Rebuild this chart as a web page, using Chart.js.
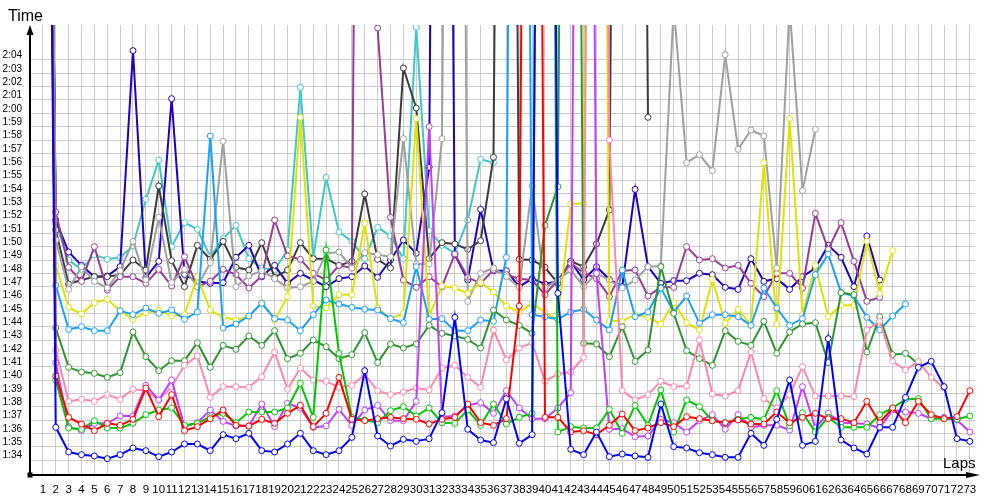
<!DOCTYPE html>
<html>
<head>
<meta charset="utf-8">
<script src="https://cdn.jsdelivr.net/npm/chart.js@4.4.1/dist/chart.umd.min.js"></script>
<style>
	html, body { margin: 0; padding: 0; background: #fff; }
	canvas { display: block; }
</style>
</head>
<body>
<canvas id="chart" width="1000" height="500"></canvas>
<script>
// lap numbers on the x axis
const laps = [
	1, 2, 3, 4, 5, 6, 7, 8, 9, 10, 11, 12, 13, 14, 15, 16, 17, 18, 19, 20,
	21, 22, 23, 24, 25, 26, 27, 28, 29, 30, 31, 32, 33, 34, 35, 36, 37, 38, 39, 40,
	41, 42, 43, 44, 45, 46, 47, 48, 49, 50, 51, 52, 53, 54, 55, 56, 57, 58, 59, 60,
	61, 62, 63, 64, 65, 66, 67, 68, 69, 70, 71, 72, 73,
]

// y tick values in seconds (1:34 .. 2:04)
const timeTicks = [
	94, 95, 96, 97, 98, 99, 100, 101, 102, 103, 104, 105, 106, 107, 108, 109,
	110, 111, 112, 113, 114, 115, 116, 117, 118, 119, 120, 121, 122, 123, 124,
]

// lap times in seconds, one array per car (null = no lap)
const blueTimes = [
	200, 96.45, 94.6, 94.4, 94.3, 94.1, 94.4, 94.9, 94.7, 94.25,
	94.6, 95.2, 95.2, 94.7, 95.9, 95.6, 96.0, 94.7, 94.6, 95.2,
	96.0, 94.7, 94.4, 94.7, 95.7, 100.7, 95.8, 95.05, 95.55, 95.4,
	95.6, 97.55, 104.7, 96.3, 95.5, 95.3, 98.6, 95.25, 95.9, 240,
	106.5, 94.8, 94.4, 96.1, 94.25, 94.45, 94.3, 94.2, 98.2, 95.0,
	94.9, 94.55, 94.4, 94.2, 94.2, 96.0, 95.1, 97.05, 100.0, 95.1,
	95.4, 103.1, 95.5, 94.9, 94.45, 96.45, 96.45, 98.7, 100.95, 101.4,
	99.5, 95.6, 95.4,
]
const redTimes = [
	200, 100.3, 97.2, 96.7, 96.2, 96.75, 96.6, 97.05, 99.4, 97.25,
	98.9, 96.2, 96.5, 97.1, 97.75, 96.6, 96.55, 97.05, 96.75, 97.5,
	98.1, 96.5, 97.5, 100.2, 97.05, 96.95, 97.1, 97.2, 97.1, 97.05,
	96.7, 97.05, 97.2, 98.2, 96.8, 96.6, 97.1, 105.55, 240, 97.2,
	97.2, 96.1, 96.2, 95.9, 96.6, 97.45, 96.2, 96.4, 96.8, 96.5,
	97.25, 97.1, 96.95, 96.8, 97.0, 96.7, 96.7, 97.6, 96.8, 97.2,
	97.5, 97.1, 97.1, 96.8, 98.4, 96.8, 97.9, 96.8, 98.4, 97.4,
	97.1, 97.25, 99.2,
]
const greenTimes = [
	200, 100.0, 96.4, 96.3, 96.95, 96.4, 96.4, 96.75, 97.4, 97.75,
	97.9, 96.6, 96.75, 97.25, 97.5, 96.8, 97.6, 97.6, 97.6, 97.9,
	99.75, 97.2, 109.75, 102.0, 97.2, 97.0, 96.8, 97.7, 98.0, 97.3,
	97.9, 96.8, 96.75, 97.75, 96.6, 98.2, 96.7, 97.2, 97.5, 240,
	96.1, 96.5, 96.4, 96.4, 97.8, 96.0, 98.1, 96.6, 99.25, 96.1,
	98.5, 98.0, 96.95, 96.8, 97.05, 97.2, 97.05, 99.2, 96.55, 97.55,
	96.1, 97.2, 96.45, 96.45, 96.45, 97.4, 97.9, 98.55, 98.6, 97.1,
	97.1, 97.05, 97.3,
]
const violetTimes = [
	200, 101.3, 96.5, 96.2, 96.75, 96.75, 97.3, 97.3, 99.6, 98.5,
	100.0, 96.5, 96.8, 97.75, 96.9, 96.55, 96.55, 98.2, 96.5, 98.25,
	97.9, 96.45, 96.55, 97.8, 96.6, 97.75, 98.1, 96.95, 96.95, 98.4,
	119.0, 97.25, 97.3, 98.1, 98.3, 97.5, 99.2, 97.9, 97.1, 97.1,
	97.9, 99.05, 240, 108.0, 96.3, 96.35, 95.75, 95.8, 97.05, 96.8,
	96.1, 96.95, 97.4, 96.3, 97.4, 96.45, 96.6, 96.6, 96.25, 99.5,
	96.4, 97.5, 96.8, 96.75, 96.7, 96.4, 97.75, 97.6, 97.5, 97.1,
	97.2, 97.0, 96.1,
]
const pinkTimes = [
	200, 102.25, 98.4, 98.55, 98.4, 98.9, 98.55, 99.3, 99.2, 98.5,
	99.5, 101.1, 101.8, 98.7, 99.5, 99.5, 99.45, 100.25, 102.1, 99.3,
	100.9, 100.0, 99.9, 99.45, 99.6, 100.4, 99.2, 98.9, 99.1, 99.4,
	99.25, 100.9, 101.1, 100.2, 99.45, 103.75, 101.5, 102.4, 102.8, 99.9,
	100.45, 100.6, 101.7, 240, 118.0, 99.2, 98.5, 98.9, 99.9, 99.5,
	99.55, 103.0, 98.95, 98.8, 99.2, 102.1, 98.6, 97.9, 98.9, 101.0,
	98.8, 98.8, 98.8, 98.75, 103.75, 104.4, 101.4, 100.75, 101.4, 100.2,
	99.4, null, null,
]
const darkGreenTimes = [
	200, 103.9, 100.95, 100.6, 100.5, 100.2, 100.55, 103.6, 101.75, 100.7,
	101.45, 101.45, 102.8, 100.95, 102.6, 102.3, 103.3, 102.6, 103.7, 101.6,
	102.0, 103.0, 102.5, 101.6, 101.9, 103.55, 101.3, 102.7, 102.4, 102.7,
	104.1, 103.5, 103.3, 103.05, 102.4, 105.25, 104.5, 104.1, 103.5, 111.6,
	114.5, 240, 102.75, 102.7, 101.75, 104.0, 101.4, 102.25, 108.5, 105.0,
	102.2, 101.6, 101.1, 103.7, 102.9, 102.6, 104.4, 102.0, 103.6, 104.2,
	104.3, 101.3, 106.55, 106.4, 102.1, 104.75, 101.9, 102.0, 101.2, null,
	null, null, null,
]
const lightBlueTimes = [
	200, 107.1, 103.8, 104.0, 103.7, 103.7, 105.2, 104.9, 105.4, 105.0,
	105.25, 104.55, 105.1, 118.3, 103.9, 104.2, 104.8, 105.75, 104.6, 104.5,
	103.7, 104.9, 106.0, 105.7, 105.45, 105.3, 105.25, 104.6, 104.3, 108.5,
	104.55, 104.6, 103.7, 103.7, 104.5, 104.4, 109.2, 240, 104.9, 104.75,
	104.55, 105.1, 105.3, 104.5, 103.75, 108.25, 104.75, 105.1, 106.9, 105.1,
	106.3, 104.25, 104.9, 104.9, 104.75, 104.1, 106.9, 105.4, 104.1, 104.6,
	107.9, 109.45, 106.55, 106.3, 104.7, 103.75, 104.8, 105.7, null, null,
	null, null, null,
]
const yellowTimes = [
	200, 108.55, 105.45, 104.95, 105.8, 106.05, 105.2, 104.55, 105.05, 105.25,
	104.8, 104.9, 107.75, 105.25, 104.7, 104.5, 104.75, 105.8, 104.5, 106.25,
	119.7, 105.55, 105.4, 106.4, 106.4, 111.75, 105.4, 104.6, 105.0, 119.6,
	104.8, 107.05, 106.9, 106.5, 107.3, 106.6, 105.55, 105.1, 105.75, 105.1,
	104.5, 113.2, 113.25, 240, 104.45, 104.4, 104.9, 104.7, 104.2, 105.8,
	104.3, 103.75, 107.55, 104.25, 105.3, 104.1, 116.3, 104.2, 119.6, 104.9,
	108.6, 104.75, 105.6, 105.6, 110.4, 106.5, 109.7, null, null, null,
	null, null, null,
]
const grayTimes = [
	200, 110.5, 106.8, 108.5, 107.4, 106.9, 108.2, 110.4, 107.5, 112.2,
	107.3, 108.3, 107.0, 108.8, 117.9, 107.0, 107.8, 108.2, 107.6, 106.9,
	107.0, 107.4, 109.5, 109.6, 108.4, 109.55, 109.4, 109.25, 118.1, 108.7,
	108.7, 118.1, 240, 105.9, 108.0, 108.4, 107.75, 106.95, 114.55, 106.95,
	107.5, 108.25, 107.0, 108.0, 107.5, 106.9, 107.5, 108.5, 108.55, 128.0,
	116.3, 116.9, 115.7, 124.4, 117.3, 118.75, 118.3, 108.4, 128.0, 114.2,
	118.8, null, null, null, null, null, null, null, null, null,
	null, null, null,
]
const purpleTimes = [
	200, 112.6, 108.45, 107.4, 110.0, 106.75, 107.75, 107.75, 107.25, 108.3,
	107.05, 109.25, 107.0, 107.4, 108.3, 107.9, 106.9, 107.8, 112.0, 109.3,
	109.05, 108.0, 107.5, 108.6, 108.4, 240, 126.4, 112.2, 107.5, 106.95,
	107.75, 107.0, 109.45, 107.7, 107.25, 108.25, 107.9, 107.6, 107.5, 106.4,
	107.5, 108.75, 108.05, 107.6, 106.25, 108.2, 108.25, 106.3, 106.95, 106.95,
	110.0, 109.0, 109.1, 108.4, 108.6, 107.25, 106.25, 108.0, 108.0, 106.9,
	112.5, 109.8, 111.8, 108.9, 105.9, 106.2, null, null, null, null,
	null, null, null,
]
const darkGrayTimes = [
	200, 111.25, 107.2, 107.5, 107.75, 107.75, 107.9, 109.0, 108.25, 114.55,
	108.95, 107.0, 110.1, 109.05, 110.4, 108.45, 108.25, 110.3, 107.7, 108.25,
	110.3, 109.1, 109.1, 108.6, 108.9, 113.95, 109.05, 108.4, 123.4, 120.4,
	109.1, 110.3, 110.2, 109.8, 110.45, 116.7, 240, 109.05, 109.0, 108.45,
	107.25, 108.9, 108.5, 110.2, 112.75, 240, 240, 119.7, null, null,
	null, null, null, null, null, null, null, null, null, null,
	null, null, null, null, null, null, null, null, null, null,
	null, null, null,
]
const navyTimes = [
	200, 112.0, 109.6, 108.6, 107.75, 107.8, 108.5, 124.7, 107.7, 108.9,
	121.1, 107.9, 107.4, 107.25, 107.3, 109.2, 110.1, 107.75, 108.6, 107.25,
	108.0, 107.5, 107.0, 107.6, 107.75, 108.55, 107.7, 109.0, 110.5, 109.5,
	115.95, 240, 109.4, 107.5, 112.8, 108.2, 108.2, 107.0, 107.6, 107.2,
	107.4, 108.9, 107.5, 108.5, 107.55, 107.0, 114.3, 108.5, 107.25, 107.45,
	107.45, 108.0, 107.9, 106.95, 106.8, 109.1, 107.4, 107.6, 106.8, 107.75,
	108.4, 110.1, 109.2, 107.0, 110.8, 107.5, null, null, null, null,
	null, null, null,
]
const cyanTimes = [
	200, 111.75, 109.0, 108.3, 109.4, 109.05, 109.2, 110.05, 113.55, 116.5,
	110.0, 111.8, 111.3, 109.25, 110.6, 111.6, 109.1, 108.4, 108.25, 109.75,
	121.95, 109.2, 115.2, 111.1, 110.4, 109.1, 111.45, 110.8, 109.1, 126.45,
	111.2, 110.1, 109.5, 112.0, 116.55, 116.3, null, null, null, null,
	null, null, null, null, null, null, null, null, null, null,
	null, null, null, null, null, null, null, null, null, null,
	null, null, null, null, null, null, null, null, null, null,
	null, null, null,
]

const series = [
	{ times: blueTimes, color: '#0000ff' },
	{ times: redTimes, color: '#ff0000' },
	{ times: greenTimes, color: '#00c800' },
	{ times: violetTimes, color: '#c040ff' },
	{ times: pinkTimes, color: '#ff88aa' },
	{ times: darkGreenTimes, color: '#2e962e' },
	{ times: lightBlueTimes, color: '#1aa0ff' },
	{ times: yellowTimes, color: '#e2e200' },
	{ times: grayTimes, color: '#a0a0a0' },
	{ times: purpleTimes, color: '#993d99' },
	{ times: darkGrayTimes, color: '#3c3c3c' },
	{ times: navyTimes, color: '#2000c0' },
	{ times: cyanTimes, color: '#40c8c8' },
]

function formatTime(value) {
	const min = Math.floor(value / 60)
	const sec = Math.round(value - min * 60)
	return min + ':' + String(sec).padStart(2, '0')
}

const datasets = series.map(eachSeries => {
	const points = []
	eachSeries.times.forEach((time, i) => {
		if (time !== null) points.push({ x: laps[i], y: time })
	})
	return {
		data: points,
		borderColor: eachSeries.color,
		borderWidth: 2,
		pointRadius: 3,
		pointBorderWidth: 1,
		pointBorderColor: eachSeries.color,
		pointBackgroundColor: '#ffffff',
		tension: 0,
	}
})

// black axes with arrows and the axis titles
const axesPlugin = {
	id: 'axes',
	afterDraw(chart) {
		const { ctx, chartArea } = chart
		const left = chartArea.left
		const bottom = chartArea.bottom
		ctx.save()
		ctx.strokeStyle = '#000'
		ctx.fillStyle = '#000'
		ctx.lineWidth = 2
		ctx.beginPath()
		ctx.moveTo(left, bottom)
		ctx.lineTo(left, 32)
		ctx.moveTo(left, bottom)
		ctx.lineTo(972, bottom)
		ctx.stroke()
		ctx.beginPath()
		ctx.moveTo(left, 25)
		ctx.lineTo(left - 3.5, 35)
		ctx.lineTo(left + 3.5, 35)
		ctx.closePath()
		ctx.fill()
		ctx.beginPath()
		ctx.moveTo(980, bottom)
		ctx.lineTo(966, bottom - 3)
		ctx.lineTo(966, bottom + 3)
		ctx.closePath()
		ctx.fill()
		ctx.fillRect(left - 2.5, bottom - 2.5, 5, 5)
		ctx.font = '16px "Liberation Sans"'
		ctx.textBaseline = 'alphabetic'
		ctx.fillText('Time', 8, 21)
		ctx.font = '15px "Liberation Sans"'
		ctx.fillText('Laps', 943, 468)
		ctx.restore()
	},
}

new Chart('chart', {
	type: 'line',
	data: { datasets: datasets },
	options: {
		responsive: false,
		animation: false,
		events: [],
		layout: { padding: { top: 25, right: 25, left: 0, bottom: 0 } },
		plugins: {
			legend: { display: false },
			tooltip: { enabled: false },
		},
		scales: {
			x: {
				type: 'linear',
				min: 0,
				max: 73.4,
				afterBuildTicks: scale => {
					scale.ticks = laps.map(lap => ({ value: lap }))
				},
				afterFit: scale => {
					scale.height = 25
				},
				ticks: {
					autoSkip: false,
					maxRotation: 0,
					minRotation: 0,
					padding: 8,
					color: '#000',
					font: { family: 'Liberation Sans', size: 11.5 },
					callback: value => String(value),
				},
				grid: { color: '#cccccc', drawTicks: false },
				border: { display: false },
			},
			y: {
				type: 'linear',
				min: 92.875,
				max: 126.625,
				afterBuildTicks: scale => {
					scale.ticks = timeTicks.map(t => ({ value: t }))
				},
				afterFit: scale => {
					scale.width = 30
				},
				ticks: {
					padding: 8,
					labelOffset: -4.5,
					color: '#000',
					font: { family: 'Liberation Sans', size: 10 },
					callback: value => formatTime(value),
				},
				grid: { color: '#cccccc', drawTicks: false },
				border: { display: false },
			},
		},
	},
	plugins: [axesPlugin],
})
</script>
</body>
</html>
